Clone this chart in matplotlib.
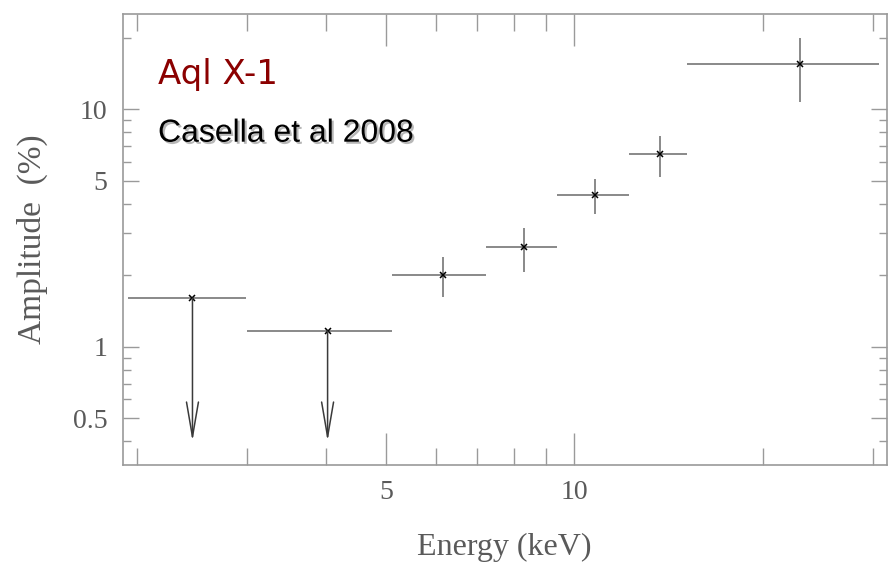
import matplotlib
matplotlib.use("Agg")
import matplotlib.pyplot as plt
import matplotlib.patheffects as pe
from matplotlib.ticker import FixedLocator, FixedFormatter, NullFormatter

# --- data (keV, % amplitude) ---
energy = [6.16, 8.30, 10.80, 13.70, 22.97]
e_low = [5.10, 7.22, 9.37, 12.22, 15.17]
e_high = [7.22, 9.37, 12.22, 15.17, 30.77]
amp = [2.00, 2.63, 4.34, 6.48, 15.47]
amp_low = [1.62, 2.06, 3.61, 5.17, 10.77]
amp_high = [2.38, 3.17, 5.07, 7.74, 20.03]

# upper limits
ul_energy = [2.45, 4.03]
ul_low = [1.93, 3.00]
ul_high = [2.98, 5.10]
ul_amp = [1.60, 1.164]
ul_arrow_end = [0.40, 0.40]

x_major = [5, 10]
x_minor = [2, 3, 4, 6, 7, 8, 9, 20, 30]
y_major = [0.5, 1, 5, 10]
y_major_labels = ["0.5", "1", "5", "10"]
y_minor = [0.4, 0.6, 0.7, 0.8, 0.9, 2, 3, 4, 6, 7, 8, 9, 20]

fig = plt.figure(figsize=(8.9, 5.74), dpi=100)
ax = fig.add_axes([0.1379, 0.190, 0.9963 - 0.1379, 0.9756 - 0.190])
ax.set_xscale("log")
ax.set_yscale("log")
ax.set_xlim(1.895, 31.6)
ax.set_ylim(0.318, 25.2)

line_col = "#808080"
xerr = [[c - l for c, l in zip(energy, e_low)], [h - c for c, h in zip(energy, e_high)]]
yerr = [[c - l for c, l in zip(amp, amp_low)], [h - c for c, h in zip(amp, amp_high)]]
ax.errorbar(energy, amp, xerr=xerr, yerr=yerr, fmt="none", ecolor=line_col,
            elinewidth=1.3, capsize=0)
ax.plot(energy, amp, ls="none", marker="x", color="black", ms=4.5, mew=1.1)

ul_xerr = [[c - l for c, l in zip(ul_energy, ul_low)], [h - c for c, h in zip(ul_energy, ul_high)]]
ax.errorbar(ul_energy, ul_amp, xerr=ul_xerr, fmt="none", ecolor=line_col,
            elinewidth=1.3, capsize=0)
ax.plot(ul_energy, ul_amp, ls="none", marker="x", color="black", ms=4.5, mew=1.1)
for xe, ya, yb in zip(ul_energy, ul_amp, ul_arrow_end):
    ax.annotate("", xy=(xe, yb), xytext=(xe, ya), xycoords="data",
                arrowprops=dict(arrowstyle="->,head_length=25,head_width=4.3",
                                mutation_scale=1, color="#3a3a3a", lw=1.1,
                                shrinkA=0, shrinkB=0))

spine_col = "#9a9a9a"
for s in ax.spines.values():
    s.set_color(spine_col)
    s.set_linewidth(1.2)

ax.xaxis.set_major_locator(FixedLocator(x_major))
ax.xaxis.set_major_formatter(FixedFormatter([str(v) for v in x_major]))
ax.xaxis.set_minor_locator(FixedLocator(x_minor))
ax.xaxis.set_minor_formatter(NullFormatter())
ax.yaxis.set_major_locator(FixedLocator(y_major))
ax.yaxis.set_major_formatter(FixedFormatter(y_major_labels))
ax.yaxis.set_minor_locator(FixedLocator(y_minor))
ax.yaxis.set_minor_formatter(NullFormatter())

ax.tick_params(axis="x", which="major", direction="in", length=23, width=1,
               color=spine_col, top=True, bottom=True, pad=11)
ax.tick_params(axis="x", which="minor", direction="in", length=12, width=1,
               color=spine_col, top=True, bottom=True)
ax.tick_params(axis="y", which="major", direction="in", length=11.5, width=1,
               color=spine_col, left=True, right=True, pad=11)
ax.tick_params(axis="y", which="minor", direction="in", length=5.5, width=1,
               color=spine_col, left=True, right=True)

serif = "Liberation Serif"
for lab in ax.get_xticklabels() + ax.get_yticklabels():
    lab.set_fontfamily(serif)
    lab.set_fontsize(20)
    lab.set_color("#5a5a5a")

ax.set_xlabel("Energy (keV)", fontfamily=serif, fontsize=23, color="#5a5a5a", labelpad=20)
ax.set_ylabel("Amplitude  (%)", fontfamily=serif, fontsize=24, color="#5a5a5a", labelpad=18)

fig.text(158 / 890, 1 - 84.3 / 574, "Aql X-1", fontfamily="DejaVu Sans", fontsize=24.5,
         color="#8b0000", ha="left", va="baseline")
fig.text(158 / 890, 1 - 141.7 / 574, "Casella et al 2008", fontfamily="Liberation Sans",
         fontsize=23, color="black", ha="left", va="baseline",
         path_effects=[pe.withSimplePatchShadow(offset=(1.5, -1.5), shadow_rgbFace="#888888", alpha=0.6)])

fig.savefig("out.png", dpi=100)
